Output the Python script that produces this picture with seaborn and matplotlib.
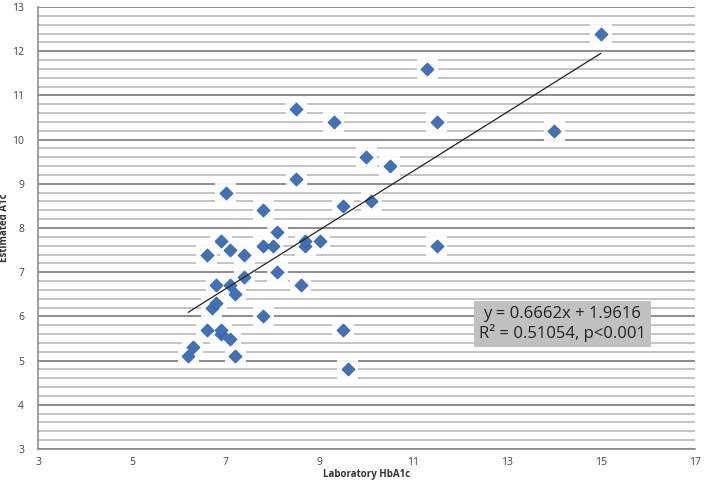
import numpy as np
import pandas as pd
import matplotlib
matplotlib.use('Agg')
import matplotlib.pyplot as plt
import seaborn as sns
from matplotlib.ticker import MultipleLocator, FixedLocator

# Laboratory HbA1c vs estimated A1c
lab_hba1c = [6.2, 6.3, 6.6, 6.6, 6.7, 6.8, 6.8, 6.9, 6.9, 6.9, 7.0, 7.1, 7.1, 7.1,
             7.2, 7.2, 7.4, 7.4, 7.8, 7.8, 7.8, 8.0, 8.1, 8.1, 8.5, 8.5, 8.6, 8.7,
             8.7, 9.0, 9.3, 9.5, 9.5, 9.6, 10.0, 10.1, 10.5, 11.3, 11.5, 11.5, 14.0, 15.0]
est_a1c = [5.1, 5.3, 5.7, 7.4, 6.2, 6.3, 6.7, 5.6, 5.7, 7.7, 8.8, 5.5, 6.7, 7.5,
           6.5, 5.1, 6.9, 7.4, 6.0, 7.6, 8.4, 7.6, 7.9, 7.0, 10.7, 9.1, 6.7, 7.6,
           7.7, 7.7, 10.4, 8.5, 5.7, 4.8, 9.6, 8.6, 9.4, 11.6, 10.4, 7.6, 10.2, 12.4]
x_ticks = [3, 5, 7, 9, 11, 13, 15, 17]

slope = 0.6662
intercept = 1.9616
r_squared = 0.51054

df = pd.DataFrame({'lab': lab_hba1c, 'est': est_a1c})

sns.set_style('white')
plt.rcParams['font.family'] = ['Open Sans', 'DejaVu Sans']

fig = plt.figure(figsize=(7.04, 4.84), dpi=100)
ax = fig.add_axes([0.054, 0.0723, 0.933, 0.9132])

ax.set_xlim(3, 17)
ax.set_ylim(3, 13)

# horizontal grid, Excel style
ax.yaxis.set_major_locator(MultipleLocator(1))
ax.yaxis.set_minor_locator(MultipleLocator(0.2))
ax.xaxis.set_major_locator(FixedLocator(x_ticks))
ax.grid(axis='y', which='major', color='#8c8c8c', linewidth=1.4, zorder=0)
ax.grid(axis='y', which='minor', color='#c4c4c4', linewidth=1.4, zorder=0)
ax.grid(axis='x', visible=False)
ax.set_axisbelow(True)

# white glow behind markers
ax.scatter(df['lab'], df['est'], marker='s', s=230, color='white',
           edgecolors='none', zorder=2, alpha=0.9)
sns.scatterplot(data=df, x='lab', y='est', marker='D', s=45, color='#3f72b8',
                edgecolor='#2f5e9e', linewidth=0.5, ax=ax, zorder=3)

# trend line
xs = np.array([min(lab_hba1c), max(lab_hba1c)])
ax.plot(xs, slope * xs + intercept, color='#222222', linewidth=0.9, zorder=4)

ax.text(14.17, 5.83, f'y = {slope}x + {intercept}\nR² = {r_squared}, p<0.001',
        ha='center', va='center', multialignment='center', fontsize=12,
        color='#222222', linespacing=1.1, zorder=5,
        bbox=dict(boxstyle='square,pad=0.3', facecolor='#c0c0c0', edgecolor='none'))

for side in ['top', 'right']:
    ax.spines[side].set_visible(False)
for side in ['left', 'bottom']:
    ax.spines[side].set_color('#8c8c8c')
    ax.spines[side].set_linewidth(1.2)

ax.tick_params(axis='both', which='major', direction='out', length=4, width=1,
               color='#8c8c8c', labelsize=7.5, labelcolor='#444444')
ax.tick_params(axis='y', which='minor', length=0)
ax.tick_params(axis='x', which='major', pad=2)
ax.tick_params(axis='y', which='major', pad=6)

ax.set_xlabel('Laboratory HbA1c', fontsize=7, fontweight='bold', color='#333333')
ax.set_ylabel('Estimated A1c', fontsize=7, fontweight='bold', color='#333333')
ax.xaxis.set_label_coords(0.5, -0.045)
ax.yaxis.set_label_coords(-0.043, 0.5)

fig.savefig('out.png', dpi=100)
